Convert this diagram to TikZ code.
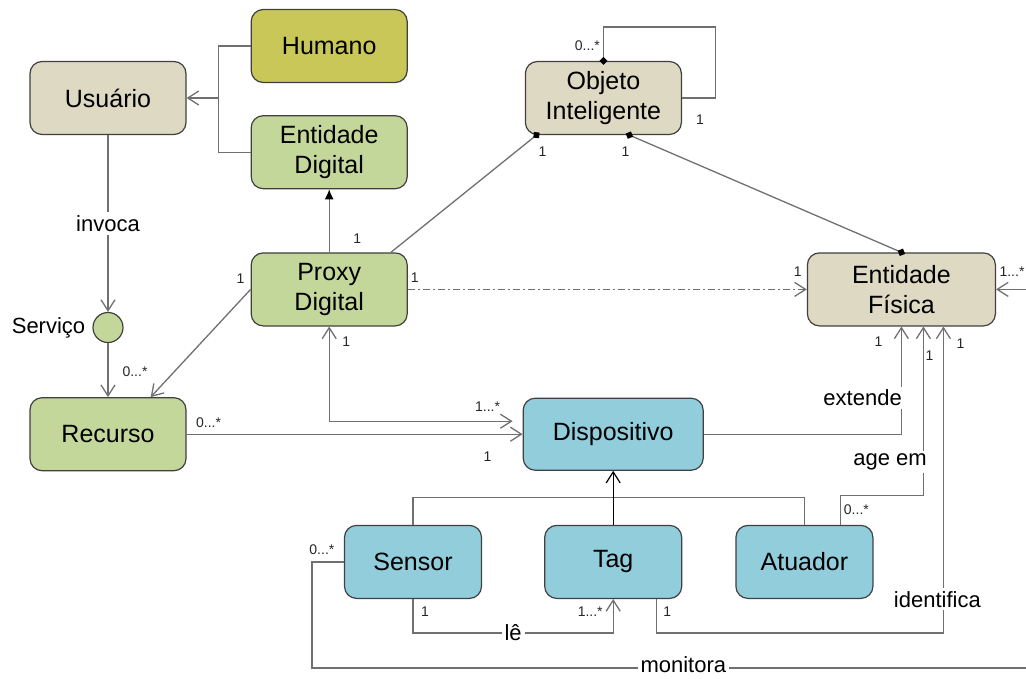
\documentclass[tikz,border=0pt]{standalone}
\usepackage{fontspec}
\setmainfont{Liberation Sans}
\usepackage{xcolor}
\usetikzlibrary{positioning}
\usetikzlibrary{arrows.meta}

\definecolor{bege}{HTML}{DDD9C3}
\definecolor{oliva}{HTML}{C9C758}
\definecolor{verde}{HTML}{C4D79B}
\definecolor{azul}{HTML}{92CDDC}
\definecolor{borda}{HTML}{404040}
\definecolor{linha}{HTML}{707070}

\begin{document}
\begin{tikzpicture} [x=1pt, y=-1pt, >={Straight Barb[length=11pt,width=14pt]}, node distance = 2cm]
            % Set primary nodes
            \tikzset{
                classNode/.style={
                        draw=borda,
                        line width=1.2pt,
                        rectangle,
                        rounded corners=12pt,
                        minimum height=73pt,
                        minimum width=156pt,
                        align=center,
                        font=\fontsize{25}{30}\selectfont
                    }
            }
            \tikzset{
                begeNode/.style={
                        classNode,
                        fill=bege
                    }
            }
            \tikzset{
                olivaNode/.style={
                        classNode,
                        fill=oliva
                    }
            }
            \tikzset{
                verdeNode/.style={
                        classNode,
                        fill=verde
                    }
            }
            \tikzset{
                azulNode/.style={
                        classNode,
                        fill=azul,
                        minimum width=137pt
                    }
            }
            \tikzset{
                servNode/.style={
                        draw=borda,
                        line width=1.2pt,
                        circle,
                        fill=verde,
                        minimum size=30pt,
                        inner sep=0pt
                    }
            }
            \tikzset{
                link/.style={
                        draw=linha,
                        line width=1.3pt
                    }
            }
            \tikzset{
                rel/.style={
                        fill=white,
                        inner sep=3pt,
                        font=\fontsize{22}{26}\selectfont
                    }
            }
            \tikzset{
                mult/.style={
                        inner sep=1pt,
                        text=black!85,
                        font=\fontsize{14}{16}\selectfont
                    }
            }
            \tikzset{
                sq/.tip={Turned Square[length=8pt,width=8pt,color=black,sep=-4pt]},
                dashdot/.style={dash pattern=on 7pt off 3pt on 2pt off 3pt}
            }
            \useasboundingbox (0,0) rectangle (1026,678);
            \clip (0,0) rectangle (1026,678);
            % Placing nodes
            \node[begeNode] (usuario) at (108,98) {Usuário};
            \node[olivaNode, right = 64pt of usuario, yshift = 52pt](humano){Humano};
            \node[verdeNode, below = 32pt of humano](entdig){Entidade\\Digital};
            \node[verdeNode, below = 63pt of entdig](proxy){Proxy\\Digital};
            \node[verdeNode, below = 262pt of usuario](recurso){Recurso};
            \node[servNode, above = 54pt of recurso](servico){};
            \node[rel, fill=none, left = 4pt of servico](servlbl){Serviço};
            \node[begeNode, right = 117pt of humano, yshift = -52pt](objeto){Objeto\\Inteligente};
            \node[begeNode, right = 399pt of proxy, minimum width=188pt](entfis){Entidade\\Física};
            \node[azulNode, right = 336pt of recurso, minimum width=180pt, minimum height=72pt](dispositivo){Dispositivo};
            \node[azulNode, below = 54pt of dispositivo](tag){Tag};
            \node[azulNode, left = 62pt of tag](sensor){Sensor};
            \node[azulNode, right = 53pt of tag](atuador){Atuador};
            % Draw connectors
            \coordinate[right = 32pt of usuario.east] (usrjoin);
            \draw[link] (humano.west) -| (usrjoin) |- (entdig.west);
            \draw[link, ->] (usrjoin) -- (usuario.east);
            \draw[link, ->] (usuario) -- node[rel]{invoca} (servico);
            \draw[link, ->] (servico) -- (recurso);
            \draw[link, ->] (proxy.west) -- (recurso.41);
            \draw[link, -{Latex[length=10pt,width=9pt,color=black]}] (proxy) -- (entdig);
            \draw[link, -sq] (proxy.31) -- (objeto.209);
            \draw[link, sq-] (objeto.north) |- ++(112,-34) |- (objeto.east);
            \draw[link, sq-sq] (objeto.305) -- (entfis.north);
            \draw[link, ->, dashdot] (proxy.east) -- (entfis.west);
            \draw[link, <->, shorten >=10pt] (proxy.south) |- ([yshift=13pt]dispositivo.west);
            \draw[link, ->] (recurso.east) -- (recurso.east -| dispositivo.west);
            \draw[link, ->] (dispositivo.east) -| node[rel, pos=0.67, anchor=east, xshift=4pt]{extende} (entfis.south);
            \draw[link, ->] ([xshift=36pt]atuador.north) -- ++(0,-29) -| node[rel, pos=0.6, anchor=east, xshift=7pt]{age em} ([xshift=22pt]entfis.south);
            \draw[link, ->] ([xshift=43pt]tag.south) -- ++(0,34) -| node[rel, pos=0.555, xshift=-6pt]{identifica} ([xshift=42pt]entfis.south);
            \coordinate (monend) at (1043,668);
            \draw[link, ->] (sensor.west) -- ++(-32,0) |- node[rel, pos=0.754, yshift=3pt]{monitora} (monend) |- (entfis.east);
            \draw[link, ->] (sensor.south) -- ++(0,34) -| node[rel, pos=0.25]{lê} (tag.south);
            \draw[link] (sensor.north) -- ++(0,-27) -| (atuador.north);
            \draw[line width=1.2pt, ->] (tag.north) -- (dispositivo.south);
            % Multiplicities
            \node[mult] at ([shift={(-10,-11)}]proxy.west) {1};
            \node[mult] at ([shift={(27,-25)}]recurso.north) {0...*};
            \node[mult] at ([shift={(28,-14)}]proxy.north) {1};
            \node[mult] at ([shift={(-61,17)}]objeto.south) {1};
            \node[mult] at ([shift={(22,17)}]objeto.south) {1};
            \node[mult] at ([shift={(-16,-15)}]objeto.north) {0...*};
            \node[mult] at ([shift={(18,22)}]objeto.east) {1};
            \node[mult] at ([shift={(7,-12)}]proxy.east) {1};
            \node[mult] at ([shift={(-9,-18)}]entfis.west) {1};
            \node[mult] at ([shift={(17,15)}]proxy.south) {1};
            \node[mult] at ([shift={(-35,-28)}]dispositivo.west) {1...*};
            \node[mult] at ([shift={(22,-12)}]recurso.east) {0...*};
            \node[mult] at ([shift={(-35,22)}]dispositivo.west) {1};
            \node[mult] at ([shift={(-23,15)}]entfis.south) {1};
            \node[mult] at ([shift={(28,29)}]entfis.south) {1};
            \node[mult] at ([shift={(59,17)}]entfis.south) {1};
            \node[mult] at ([shift={(52,-15)}]atuador.north) {0...*};
            \node[mult] at ([shift={(54,13)}]tag.south) {1};
            \node[mult] at ([shift={(-22,-12)}]sensor.west) {0...*};
            \node[mult] at ([shift={(12,13)}]sensor.south) {1};
            \node[mult] at ([shift={(-23,13)}]tag.south) {1...*};
            \node[mult] at ([shift={(16,-18)}]entfis.east) {1...*};
        \end{tikzpicture}
\end{document}
